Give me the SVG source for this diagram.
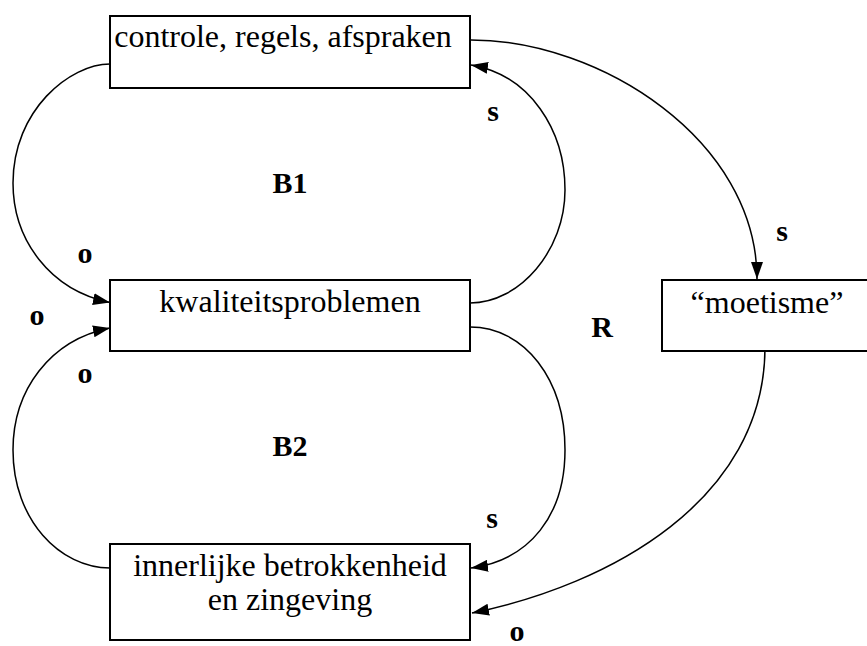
<svg xmlns="http://www.w3.org/2000/svg" width="867" height="646" viewBox="0 0 867 646">
<style>
text{font-family:'Liberation Serif','Times New Roman',Tinos,Times,'DejaVu Serif',serif;fill:#000;text-anchor:middle}
.box{fill:#fff;stroke:#000;stroke-width:2}
.t{font-size:32px}
.l{font-size:30px;font-weight:bold}
.c{fill:none;stroke:#000;stroke-width:1.5}
</style>
<defs>
<marker id="ah" viewBox="0 0 17 12" refX="17" refY="6" markerWidth="17" markerHeight="12" markerUnits="userSpaceOnUse" orient="auto">
<path d="M0,0 L17,6 L0,12 z" fill="#000"/>
</marker>
</defs>
<rect width="867" height="646" fill="#fff"/>
<g id="connectors">
<path class="c" d="M110,64 C70,64 13,110 13,183 C13,240 50,290 110,302.5" marker-end="url(#ah)"/>
<path class="c" d="M110,568 C60,568 13,520 13,450 C13,390 50,340 110,328" marker-end="url(#ah)"/>
<path class="c" d="M470,303 C520,303 565,250 565,190 C565,130 530,75 471,65" marker-end="url(#ah)"/>
<path class="c" d="M470,327 C525,327 565,380 565,450 C565,515 530,560 471,568" marker-end="url(#ah)"/>
<path class="c" d="M471,40 C600,40 757,140 757,279" marker-end="url(#ah)"/>
<path class="c" d="M765,347 C765,500 610,585 472,613" marker-end="url(#ah)"/>
</g>
<g id="controle">
<rect class="box" x="110" y="16" width="360" height="72"/>
<text class="t" x="283" y="47" font-family="Liberation Serif, serif">controle, regels, afspraken</text>
</g>
<g id="kwaliteitsproblemen">
<rect class="box" x="110" y="280" width="360" height="71"/>
<text class="t" x="290" y="312">kwaliteitsproblemen</text>
</g>
<g id="innerlijke">
<rect class="box" x="110" y="544" width="360" height="96"/>
<text class="t" x="290" y="576">innerlijke betrokkenheid</text>
<text class="t" x="290" y="610">en zingeving</text>
</g>
<g id="moetisme">
<rect class="box" x="662" y="280" width="212" height="71"/>
<text class="t" x="767" y="313">“moetisme”</text>
</g>
<g id="labels">
<text class="l" x="493" y="121">s</text>
<text class="l" x="290" y="193">B1</text>
<text class="l" x="782" y="241">s</text>
<text class="l" x="85" y="263">o</text>
<text class="l" x="37" y="325">o</text>
<text class="l" x="85" y="383">o</text>
<text class="l" x="602" y="337">R</text>
<text class="l" x="290" y="456">B2</text>
<text class="l" x="492" y="528">s</text>
<text class="l" x="517" y="641">o</text>
</g>
</svg>
